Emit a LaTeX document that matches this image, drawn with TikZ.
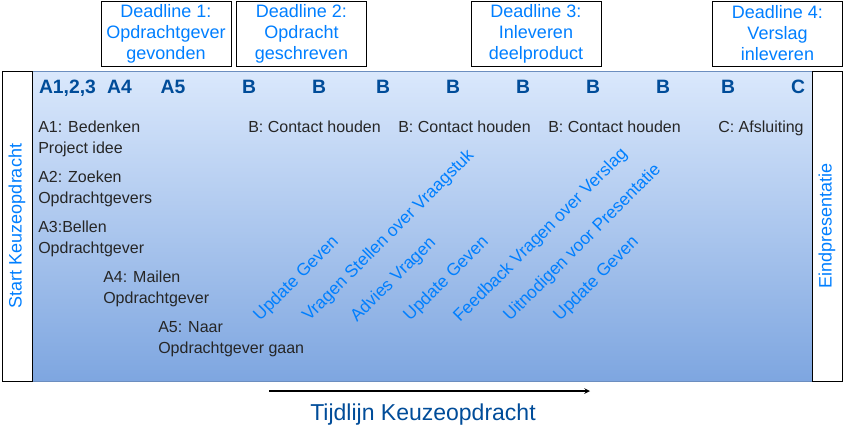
\documentclass[tikz,border=0pt]{standalone}
\usepackage{fontspec}
\setmainfont{Liberation Sans}
\usepackage{xcolor}
\usepackage{tikz}
\usetikzlibrary{positioning,%
  arrows,%
  shapes
}

\definecolor{lichtblauw}{HTML}{DAE8FC}
\definecolor{middenblauw}{HTML}{7EA6E0}
\definecolor{randblauw}{HTML}{6C8EBF}
\definecolor{helderblauw}{HTML}{007FFF}
\definecolor{donkerblauw}{HTML}{004C99}

\begin{document}
\begin{tikzpicture}[x=0.75pt,y=-0.75pt,
    deadline/.style={draw=black,line width=0.75pt,fill=white,
      minimum width=97.5pt,minimum height=48.75pt,inner sep=0pt,
      align=center,text=helderblauw,
      font=\fontsize{13.5}{15.75}\selectfont},
    zijvak/.style={draw=black,line width=0.75pt,fill=white,rotate=90,
      minimum width=232.5pt,minimum height=22.5pt,inner sep=0pt,
      text=helderblauw,font=\fontsize{13.5}{16}\selectfont},
    letter/.style={anchor=base,inner sep=0pt,text=donkerblauw,
      font=\fontsize{14.5}{17}\selectfont\bfseries},
    taak/.style={anchor=base west,inner sep=0pt,align=left,
      text=black!85,font=\fontsize{12}{15.5}\selectfont},
    contact/.style={anchor=base west,inner sep=0pt,rotate=45,
      text=helderblauw,font=\fontsize{13}{15}\selectfont}]
            % vaste afmetingen
            \useasboundingbox (0,0) rectangle (868,443);

            % balk met verloop
            \node[draw=randblauw,line width=0.75pt,top color=lichtblauw,
              bottom color=middenblauw,minimum width=585pt,
              minimum height=232.5pt,inner sep=0pt] (balk) at (422,226) {};
            \node[zijvak] (start) at (17,226) {Start Keuzeopdracht};
            \node[zijvak] (eind) at (827,226) {Eindpresentatie};

            % deadlines
            \node[deadline] (dl1) at (166,33.5) {Deadline 1:\\Opdrachtgever\\gevonden};
            \node[deadline] (dl2) at (301.5,33.5) {Deadline 2:\\Opdracht\\geschreven};
            \node[deadline] (dl3) at (536,33.5) {Deadline 3:\\Inleveren\\deelproduct};
            \node[deadline] (dl4) at (777.5,33.5) {Deadline 4:\\Verslag\\inleveren};

            % fasen
            \node[letter] (a123) at (67.5,93) {A1,2,3};
            \node[letter] (a4) at (119.5,93) {A4};
            \node[letter] (a5) at (173,93) {A5};
            \node[letter] (b1) at (249,93) {B};
            \node[letter] (b2) at (319,93) {B};
            \node[letter] (b3) at (383,93) {B};
            \node[letter] (b4) at (453,93) {B};
            \node[letter] (b5) at (523,93) {B};
            \node[letter] (b6) at (593,93) {B};
            \node[letter] (b7) at (663,93) {B};
            \node[letter] (b8) at (728,93) {B};
            \node[letter] (c) at (798,93) {C};

            % taken (basislijn van de tweede regel)
            \node[taak] (t1) at (38,153) {A1: Bedenken\\Project idee};
            \node[taak] (t2) at (38,203) {A2: Zoeken\\Opdrachtgevers};
            \node[taak] (t3) at (38,253) {A3:Bellen\\Opdrachtgever};
            \node[taak] (t4) at (103,303) {A4: Mailen\\Opdrachtgever};
            \node[taak] (t5) at (158,353) {A5: Naar\\Opdrachtgever gaan};
            \node[taak] (tb1) at (248,132) {B: Contact houden};
            \node[taak] (tb2) at (398,132) {B: Contact houden};
            \node[taak] (tb3) at (548,132) {B: Contact houden};
            \node[taak] (tc) at (718,132) {C: Afsluiting};

            % contactmomenten
            \node[contact] (k1) at (260,322) {Update Geven};
            \node[contact] (k2) at (309,322) {Vragen Stellen over Vraagstuk};
            \node[contact] (k3) at (357,323) {Advies Vragen};
            \node[contact] (k4) at (410,322) {Update Geven};
            \node[contact] (k5) at (460,323) {Feedback Vragen over Verslag};
            \node[contact] (k6) at (510,322) {Uitnodigen voor Presentatie};
            \node[contact] (k7) at (560,322) {Update Geven};

            % tijdlijn
            \coordinate (tl-start) at (269,391);
            \coordinate (tl-eind) at (590,391);
            \draw[->,>=stealth,line width=0.9pt] (tl-start) -- (tl-eind);
            \node[anchor=base,inner sep=0pt,text=donkerblauw,
              font=\fontsize{17.25}{20}\selectfont] (titel) at (423,420)
              {Tijdlijn Keuzeopdracht};
        \end{tikzpicture}
\end{document}
